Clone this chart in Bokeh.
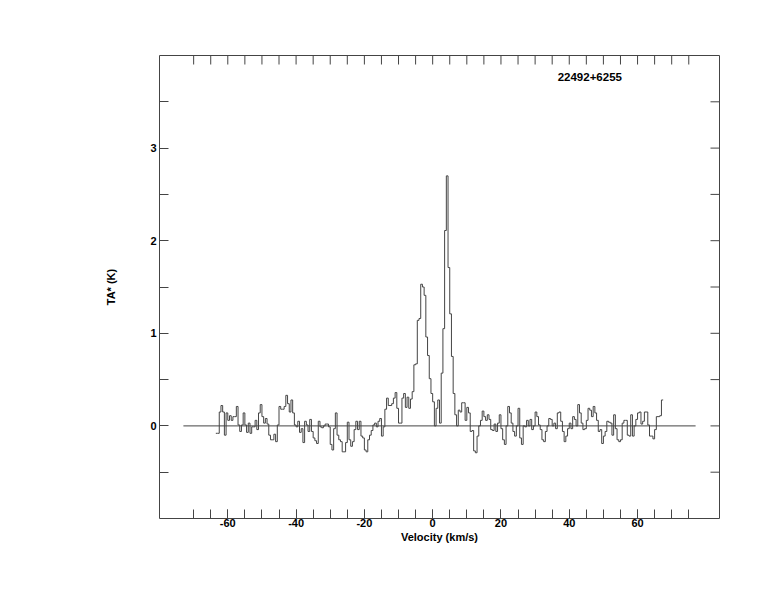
import numpy as np
from bokeh.plotting import figure
from bokeh.models import FixedTicker, LinearAxis, Range1d, Label
from bokeh.embed import file_html
from bokeh.resources import INLINE

# ---- data -------------------------------------------------------------
source_name = "22492+6255"
v_start = -63.5          # km/s, left edge of first channel
dv = 0.5                 # km/s channel width

ta_a = [-0.08, -0.08, 0.15, 0.22, 0.15, -0.10, 0.14, 0.06, 0.11, 0.06,
        0.10, 0.10, 0.21, 0.01, -0.06, 0.01, 0.14, 0.01, -0.07, 0.03,
        -0.08, -0.01, -0.01, 0.06, -0.04, 0.14, 0.23, 0.10, 0.03, 0.08,
        0.02, -0.10, -0.15, -0.15, -0.09, -0.17, 0.01, 0.21, 0.18, 0.18,
        0.21, 0.33, 0.24, 0.15]
ta_b = [0.28, 0.14, 0.01, -0.01, 0.05, -0.07, -0.03, -0.18, 0.05, 0.01,
        -0.06, 0.07, -0.06, -0.13, -0.16, -0.19, 0.05, -0.01, -0.02, 0.00,
        0.02, 0.02, -0.01, -0.20, -0.26, -0.03, 0.14, -0.10, -0.15, -0.17,
        -0.28, -0.28, -0.18, 0.04, -0.15, -0.22, -0.17, -0.04, 0.05, -0.04,
        0.05, -0.11, -0.13, -0.26, -0.28, -0.15, -0.10, -0.05, 0.01, 0.03,
        -0.01, 0.05, 0.08, -0.11, -0.01, 0.18, 0.30, 0.22, 0.22, 0.24,
        0.30, 0.36, 0.19]
ta_c = [0.03, 0.03, 0.30, 0.35, 0.20, 0.31, 0.19, 0.29, 0.37, 0.66,
        0.67, 1.14, 1.16, 1.53, 1.50, 1.41, 0.96, 0.76, 0.51, 0.35,
        0.26, 0.00, 0.19, 0.28, 0.03, 0.57, 1.05, 2.11, 2.70, 1.71,
        1.21, 0.75, 0.35, 0.12, 0.00, 0.17, 0.15, 0.25, 0.25, 0.06,
        0.20, 0.14, -0.06, -0.05, -0.27, -0.29]
ta_d = [-0.11, 0.00, 0.06, 0.16, 0.10, 0.06, 0.12, 0.07, -0.04, -0.05,
        0.02, -0.06, 0.03, 0.12, -0.03, -0.15, -0.20, 0.00, 0.21, 0.14,
        0.03, -0.06, -0.11, 0.00, 0.19, -0.13, -0.20, 0.00, -0.01, 0.06,
        0.00, 0.07, -0.04, 0.00, 0.15, 0.10, 0.01, -0.04, -0.15, -0.17,
        -0.06, 0.00, 0.08, 0.07, 0.00, 0.03, -0.03, 0.14, 0.15, 0.05,
        -0.06, -0.17, -0.11, -0.03, 0.03, -0.03, 0.10, 0.07, 0.00, 0.23,
        0.14, 0.03, -0.04, -0.03, 0.06, 0.19]
ta_e = [0.17, 0.10, 0.21, 0.14, 0.06, -0.06, -0.04, -0.19, -0.11, -0.06,
        0.05, 0.04, 0.03, -0.10, 0.12, -0.03, -0.15, -0.17, -0.15, 0.03,
        0.06, 0.06, -0.10, -0.11, 0.12, -0.11, 0.00, 0.07, 0.14, 0.15,
        0.02, 0.05, 0.15, 0.15, 0.01, -0.11, -0.11, -0.14, -0.04, 0.10,
        0.10, 0.11, 0.28]

baseline_x = [-73, 77]
baseline_y = [0, 0]

x_major = [-60, -40, -20, 0, 20, 40, 60]
x_minor = list(range(-70, 80, 5))
y_major = [0, 1, 2, 3]
y_minor = [-0.5, 0.5, 1.5, 2.5, 3.5]

title_pos = (36.6, 3.77)

# ---- build ------------------------------------------------------------
ta = ta_a + ta_b + ta_c + ta_d + ta_e
v_edges = v_start + dv * np.arange(len(ta) + 1)
ta_steps = ta + [ta[-1]]

X_RANGE = (-80, 84)
Y_RANGE = (-1, 4)
FW, FH = 560, 463
TICK = 9  # px

FONT = "Liberation Sans"
LC = "#444444"

p = figure(frame_width=FW, frame_height=FH,
           min_border_left=159, min_border_right=40,
           min_border_top=55, min_border_bottom=80,
           x_range=Range1d(*X_RANGE), y_range=Range1d(*Y_RANGE),
           output_backend="svg", toolbar_location=None,
           x_axis_location=None, y_axis_location=None)
p.grid.visible = False
p.outline_line_color = LC
p.outline_line_width = 1
p.background_fill_color = "white"
p.border_fill_color = "white"

xt = FixedTicker(ticks=x_major, minor_ticks=x_minor)
yt = FixedTicker(ticks=y_major, minor_ticks=y_minor)


def style(ax):
    ax.axis_line_color = None
    ax.major_tick_in = TICK
    ax.major_tick_out = 0
    ax.minor_tick_in = TICK
    ax.minor_tick_out = 0
    ax.major_tick_line_color = LC
    ax.minor_tick_line_color = LC
    ax.major_label_text_font = FONT
    ax.major_label_text_font_style = "bold"
    ax.major_label_text_font_size = "11px"
    ax.major_label_text_color = "black"
    ax.axis_label_text_font = FONT
    ax.axis_label_text_font_style = "bold"
    ax.axis_label_text_font_size = "11px"
    ax.axis_label_text_color = "black"


bottom = LinearAxis(ticker=xt, axis_label="Velocity (km/s)")
style(bottom)
bottom.major_label_standoff = 0
bottom.axis_label_standoff = 1
bottom.major_label_overrides = {t: str(t) for t in x_major}
p.add_layout(bottom, "below")

left = LinearAxis(ticker=yt, axis_label="TA* (K)")
style(left)
left.major_label_standoff = 3
left.axis_label_standoff = 30
left.major_label_overrides = {t: str(t) for t in y_major}
p.add_layout(left, "left")

# mirrored inward ticks on the top and right frame edges
dy_tick = TICK * (Y_RANGE[1] - Y_RANGE[0]) / FH
dx_tick = TICK * (X_RANGE[1] - X_RANGE[0]) / FW
x_all = sorted(set(x_minor) | set(x_major))
y_all = sorted(set(y_minor) | set(y_major))
p.segment(x0=x_all, x1=x_all, y0=[Y_RANGE[1]] * len(x_all),
          y1=[Y_RANGE[1] - dy_tick] * len(x_all), line_color=LC, line_width=1)
p.segment(x0=[X_RANGE[1]] * len(y_all), x1=[X_RANGE[1] - dx_tick] * len(y_all),
          y0=y_all, y1=y_all, line_color=LC, line_width=1)

p.line(baseline_x, baseline_y, line_color=LC, line_width=1)
p.step(v_edges, ta_steps, mode="after", line_color=LC, line_width=1)

p.add_layout(Label(x=title_pos[0], y=title_pos[1], text=source_name,
                   text_font=FONT, text_font_style="bold",
                   text_font_size="11.5px", text_baseline="middle",
                   text_color="black"))

open("out.html", "w").write(file_html(p, INLINE))
